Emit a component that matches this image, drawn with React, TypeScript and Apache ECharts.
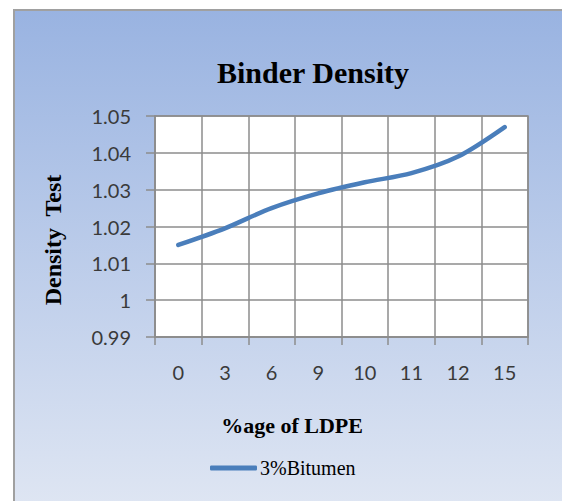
import React, { useEffect, useRef } from "react";
import * as echarts from "echarts";

const categories = ["0", "3", "6", "9", "10", "11", "12", "15"];
const densityValues = [1.015, 1.0195, 1.025, 1.029, 1.032, 1.0345, 1.039, 1.047];
const seriesName = "3%Bitumen";
const chartTitle = "Binder Density";
const yTitle = "Density  Test";
const xTitle = "%age of LDPE";

export default function App() {
  const ref = useRef<HTMLDivElement>(null);
  useEffect(() => {
    if (!ref.current) return;
    const chart = echarts.init(ref.current, undefined, { renderer: "svg" });
    const serif = "'Liberation Serif', 'DejaVu Serif', serif";
    const sans = "Lato, 'Open Sans', sans-serif";
    chart.setOption({
      animation: false,
      backgroundColor: "#ffffff",
      graphic: [
        {
          type: "rect",
          z: -10,
          shape: { x: 14, y: 10, width: 560, height: 500 },
          style: {
            fill: {
              type: "linear",
              x: 0,
              y: 0,
              x2: 0,
              y2: 1,
              colorStops: [
                { offset: 0, color: "#99b3e1" },
                { offset: 1, color: "#dfe6f3" },
              ],
            },
            stroke: "#a0a0a0",
            lineWidth: 2,
          },
        },
        {
          type: "text",
          x: 313,
          y: 72,
          style: {
            text: chartTitle,
            font: `bold 30px ${serif}`,
            fill: "#000000",
            textAlign: "center",
            textVerticalAlign: "middle",
          },
        },
        {
          type: "text",
          x: 53,
          y: 240,
          rotation: Math.PI / 2,
          style: {
            text: yTitle,
            font: `bold 24px ${serif}`,
            fill: "#000000",
            textAlign: "center",
            textVerticalAlign: "middle",
          },
        },
        {
          type: "text",
          x: 292,
          y: 425,
          style: {
            text: xTitle,
            font: `bold 22px ${serif}`,
            fill: "#000000",
            textAlign: "center",
            textVerticalAlign: "middle",
          },
        },
      ],
      legend: {
        data: [{ name: seriesName, icon: "roundRect" }],
        left: 210,
        top: 458,
        padding: 0,
        itemWidth: 47,
        itemHeight: 5,
        itemGap: 4,
        textStyle: { fontFamily: serif, fontSize: 20, color: "#000000", padding: [0, 0, 0, -2] },
      },
      grid: {
        left: 155,
        right: 34,
        top: 116,
        bottom: 164,
        show: true,
        backgroundColor: "#ffffff",
        borderColor: "#8c8c8c",
        borderWidth: 1.5,
        containLabel: false,
        outerBoundsMode: "none",
      },
      xAxis: {
        type: "category",
        data: categories,
        boundaryGap: true,
        axisLine: { show: true, lineStyle: { color: "#8c8c8c", width: 1.5 } },
        axisTick: { show: true, length: 8, lineStyle: { color: "#8c8c8c", width: 1.5 } },
        splitLine: { show: true, lineStyle: { color: "#8c8c8c", width: 1.5 } },
        axisLabel: { margin: 25, fontFamily: sans, fontSize: 20, color: "#3a3a3a" },
      },
      yAxis: {
        type: "value",
        min: 0.99,
        max: 1.05,
        interval: 0.01,
        axisLine: { show: true, lineStyle: { color: "#8c8c8c", width: 1.5 } },
        axisTick: { show: true, length: 9, lineStyle: { color: "#8c8c8c", width: 1.5 } },
        splitLine: { show: true, lineStyle: { color: "#8c8c8c", width: 1.5 } },
        axisLabel: {
          margin: 24,
          fontFamily: sans,
          fontSize: 20,
          color: "#3a3a3a",
          formatter: (v: number) => String(parseFloat(v.toFixed(2))),
        },
      },
      series: [
        {
          name: seriesName,
          type: "line",
          data: densityValues,
          smooth: 0.3,
          showSymbol: false,
          symbol: "none",
          lineStyle: { color: "#4a7ebb", width: 4.5, cap: "round" },
          itemStyle: { color: "#4a7ebb" },
        },
      ],
    });
    return () => chart.dispose();
  }, []);
  return (
    <div
      ref={ref}
      style={{ position: "fixed", left: 0, top: 0, width: 562, height: 501 }}
    />
  );
}
